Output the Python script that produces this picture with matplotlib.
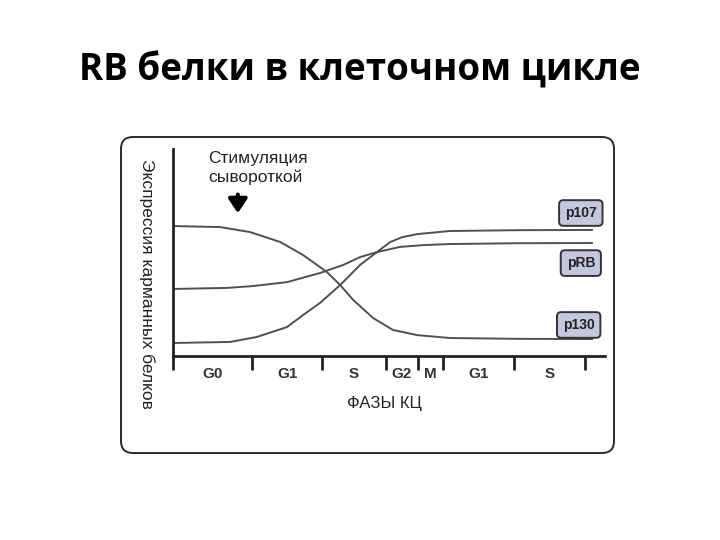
import numpy as np
import matplotlib as mpl
mpl.use("agg")
import matplotlib.pyplot as plt
from matplotlib.patches import FancyBboxPatch
from matplotlib.transforms import blended_transform_factory


# phase boundaries along the cell-cycle time axis (0..100)
PHASE_BOUNDS = [0.0, 18.3, 34.5, 49.3, 56.7, 62.5, 78.9, 95.4]
PHASE_NAMES = ["G0", "G1", "S", "G2", "M", "G1", "S"]

STIM_TIME = 15.0

# expression curves (time, level)
P130_T = [0.0, 10.9, 17.8, 24.8, 30.1, 34.0, 35.6, 38.7, 41.7, 46.3, 50.9, 56.5, 64.1, 80.0, 97.2]
P130_Y = [62.8, 62.3, 59.9, 55.1, 48.8, 43.0, 40.6, 34.3, 27.1, 18.4, 12.6, 10.1, 8.7, 8.3, 8.2]

PRB_T = [0.0, 12.5, 18.5, 26.4, 34.0, 39.4, 43.3, 47.2, 52.5, 58.0, 64.1, 80.0, 97.2]
PRB_Y = [32.4, 32.9, 33.8, 35.7, 40.1, 44.0, 47.8, 50.2, 52.7, 53.6, 54.1, 54.5, 54.6]

P107_T = [0.0, 13.2, 19.4, 26.4, 30.1, 34.0, 38.7, 43.3, 47.2, 50.2, 53.0, 56.5, 64.1, 80.0, 97.2]
P107_Y = [6.3, 6.8, 9.2, 14.0, 19.8, 25.6, 34.3, 44.0, 50.2, 55.0, 57.4, 58.9, 60.4, 60.8, 60.9]

LABELS = ["p107", "pRB", "p130"]
LABEL_T = [94.4, 94.4, 93.9]
LABEL_Y = [69.1, 44.9, 15.0]


plt.rcParams["font.family"] = ["Liberation Sans", "DejaVu Sans"]

fig = plt.figure(figsize=(7.2, 5.4), dpi=100)

fig.text(0.5, 0.870, "RB белки в клеточном цикле", ha="center", va="center",
         fontsize=26.5, fontweight="bold", family=["Open Sans", "DejaVu Sans"])

# outer rounded frame
frame = FancyBboxPatch((1.21, 0.87), 4.93, 3.16,
                       boxstyle="round,pad=0,rounding_size=0.12",
                       transform=fig.dpi_scale_trans, zorder=-1,
                       facecolor="none", edgecolor="#2a2a2a", linewidth=1.4)
fig.patches.append(frame)

ax = fig.add_axes([0.2403, 0.3407, 0.60, 0.3833])
ax.set_xlim(0, 100)
ax.set_ylim(0, 100)
ax.patch.set_alpha(0)

for t, y in [(P130_T, P130_Y), (PRB_T, PRB_Y), (P107_T, P107_Y)]:
    ax.plot(t, y, color="#505050", linewidth=1.4, solid_capstyle="butt")

for spine in ["top", "right"]:
    ax.spines[spine].set_visible(False)
ax.spines["left"].set_linewidth(2.0)
ax.spines["bottom"].set_linewidth(2.0)
ax.spines["left"].set_color("#222222")
ax.spines["bottom"].set_color("#222222")

ax.set_xticks(PHASE_BOUNDS)
ax.set_xticklabels([])
ax.tick_params(axis="x", direction="out", length=10, width=2.0, color="#222222")
ax.set_yticks([])

trans = blended_transform_factory(ax.transData, ax.transAxes)
mids = [(a + b) / 2 for a, b in zip(PHASE_BOUNDS[:-1], PHASE_BOUNDS[1:])]
for m, name in zip(mids, PHASE_NAMES):
    ax.text(m, -0.085, name, transform=trans, ha="center", va="center",
            fontsize=11, fontweight="bold", color="#333333")

ax.text(0.49, -0.227, "ФАЗЫ КЦ", transform=ax.transAxes, ha="center",
        va="center", fontsize=12, color="#222222")

ax.text(-0.06, 0.348, "Экспрессия карманных белков", transform=ax.transAxes,
        rotation=-90, ha="center", va="center", fontsize=12.5, color="#222222")

ax.text(0.081, 0.908, "Стимуляция\nсывороткой", transform=ax.transAxes,
        ha="left", va="center", fontsize=12.5, linespacing=1.3, color="#222222")

ax.annotate("", xy=(STIM_TIME, 69.0), xytext=(STIM_TIME, 78.0),
            arrowprops=dict(arrowstyle="-|>,head_width=0.4,head_length=0.6",
                            color="black", linewidth=3, mutation_scale=14,
                            shrinkA=0, shrinkB=0),
            annotation_clip=False)

for name, t, y in zip(LABELS, LABEL_T, LABEL_Y):
    ax.text(t, y, name, ha="center", va="center", fontsize=10,
            fontweight="bold", color="#222222", clip_on=False,
            bbox=dict(boxstyle="round,pad=0.42,rounding_size=0.3",
                      facecolor="#c6c7df", edgecolor="#333333", linewidth=1.4))

fig.savefig("out.png", dpi=100)
